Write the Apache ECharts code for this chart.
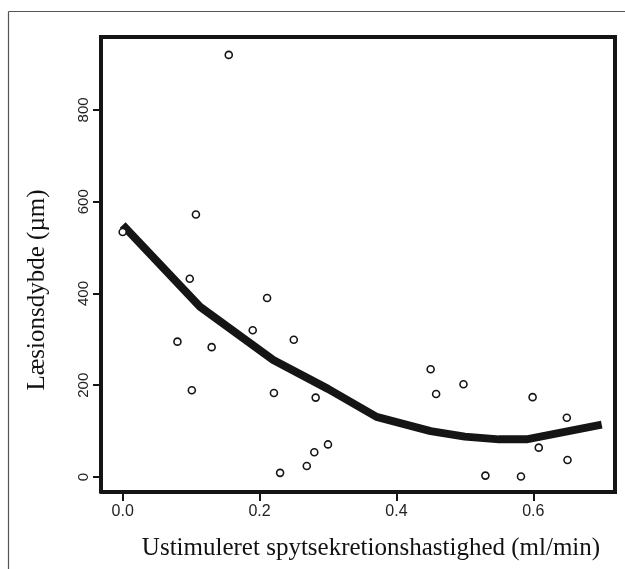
<!DOCTYPE html>
<html>
<head>
<meta charset="utf-8">
<script src="https://cdn.jsdelivr.net/npm/echarts@6/dist/echarts.min.js"></script>
<style>
  html, body { margin: 0; padding: 0; background: #fff; }
  #chart { width: 625px; height: 569px; }
</style>
</head>
<body>
<div id="chart"></div>
<script>
// scatter points (flow ml/min, lesion depth um)
let pointX = [0.00, 0.155, 0.107, 0.098, 0.080, 0.101, 0.130, 0.190, 0.211, 0.250, 0.221, 0.282, 0.230, 0.269, 0.280, 0.300, 0.450, 0.458, 0.498, 0.530, 0.582, 0.599, 0.608, 0.649, 0.650]
let pointY = [534, 920, 572, 432, 295, 189, 283, 320, 390, 299, 183, 173, 9, 24, 54, 71, 235, 181, 202, 3, 1, 174, 64, 129, 37]

// smoothed fit line
let curveX = [0.0, 0.113, 0.22, 0.30, 0.371, 0.45, 0.50, 0.55, 0.59, 0.70]
let curveY = [549, 371, 255, 192, 131, 100, 88, 82, 82, 114]

let xTicks = [0, 0.2, 0.4, 0.6]
let yTicks = [0, 200, 400, 600, 800]
let xTitle = 'Ustimuleret spytsekretionshastighed (ml/min)'
let yTitle = 'Læsionsdybde (µm)'

let ink = '#151515'
let sans = '"Liberation Sans", Arial, sans-serif'
let serif = '"Liberation Serif", "Times New Roman", serif'

let chart = echarts.init(document.getElementById('chart'))
chart.setOption({
  animation: false,
  grid: {
    left: 101,
    top: 37,
    width: 514,
    height: 455
  },
  xAxis: {
    type: 'value',
    min: -0.0317,
    max: 0.7194,
    splitLine: { show: false },
    axisLine: { show: true, onZero: false, lineStyle: { color: ink, width: 4 } },
    axisTick: {
      show: true,
      customValues: xTicks,
      length: 9,
      lineStyle: { color: ink, width: 2 }
    },
    axisLabel: {
      customValues: xTicks,
      formatter: function (v) { return v.toFixed(1) },
      fontFamily: sans,
      fontSize: 16,
      color: '#222',
      margin: 12
    }
  },
  yAxis: {
    type: 'value',
    min: -32.7,
    max: 959,
    splitLine: { show: false },
    axisLine: { show: true, onZero: false, lineStyle: { color: ink, width: 4 } },
    axisTick: {
      show: true,
      customValues: yTicks,
      length: 8,
      lineStyle: { color: ink, width: 2 }
    },
    axisLabel: {
      customValues: yTicks,
      rotate: 90,
      fontFamily: sans,
      fontSize: 15,
      color: '#222',
      margin: 10
    }
  },
  graphic: [
    // outer figure frame
    { type: 'line', shape: { x1: 8.5, y1: 11.5, x2: 625, y2: 11.5 }, style: { stroke: '#555', lineWidth: 1.2 } },
    { type: 'line', shape: { x1: 8.5, y1: 11.5, x2: 8.5, y2: 569 }, style: { stroke: '#555', lineWidth: 1.2 } },
    // top and right sides of the plot box
    { type: 'line', shape: { x1: 99, y1: 37, x2: 615, y2: 37 }, style: { stroke: ink, lineWidth: 4 } },
    { type: 'line', shape: { x1: 615, y1: 35, x2: 615, y2: 494 }, style: { stroke: ink, lineWidth: 4 } },
    {
      type: 'text', x: 371, y: 548,
      style: { text: xTitle, align: 'center', verticalAlign: 'middle', font: '25px ' + serif, fill: '#111' }
    },
    {
      type: 'text', x: 37, y: 290, rotation: Math.PI / 2,
      style: { text: yTitle, align: 'center', verticalAlign: 'middle', font: '25px ' + serif, fill: '#111' }
    }
  ],
  series: [
    {
      name: 'fit',
      type: 'line',
      data: curveX.map(function (x, i) { return [x, curveY[i]] }),
      symbol: 'none',
      smooth: false,
      lineStyle: { color: ink, width: 8, cap: 'butt', join: 'round' },
      z: 2
    },
    {
      name: 'points',
      type: 'scatter',
      data: pointX.map(function (x, i) { return [x, pointY[i]] }),
      symbol: 'circle',
      symbolSize: 7,
      itemStyle: { color: '#fff', borderColor: ink, borderWidth: 1.6, opacity: 1 },
      z: 3
    }
  ]
})
</script>
</body>
</html>
